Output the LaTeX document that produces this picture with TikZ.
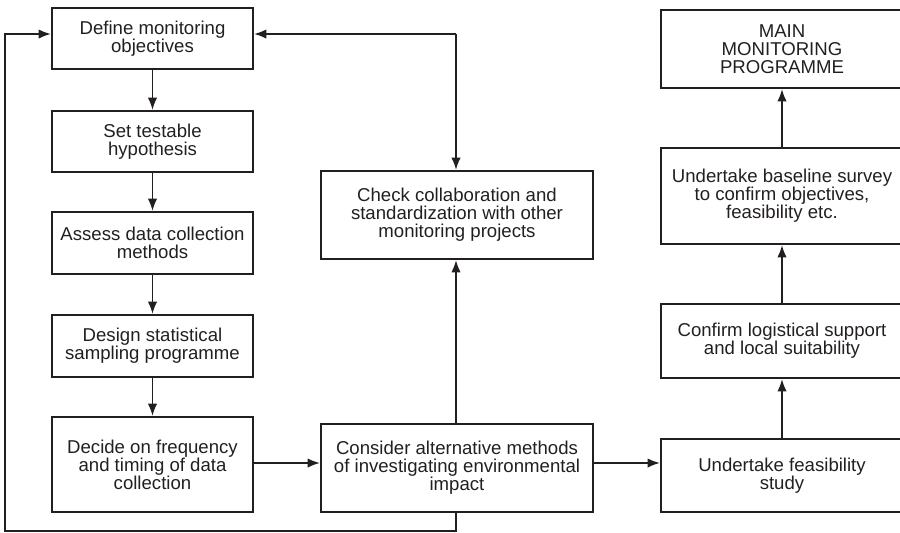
\documentclass[tikz,border=0pt]{standalone}
\usepackage{fontspec}
\setmainfont{Liberation Sans}
\usetikzlibrary{arrows.meta,calc}
\definecolor{ink}{RGB}{35,31,32}
\begin{document}
\begin{tikzpicture}[x=0.5pt, y=-0.5pt]
  \tikzstyle{stage}=[draw=ink, line width=1.3pt, align=center, inner sep=0pt,
                     font=\fontsize{9.3}{9}\selectfont, text=ink]
  \tikzstyle{link}=[draw=ink, line width=0.55pt, -{Latex[length=6pt,width=4.6pt]}]
  \useasboundingbox (0,0) rectangle (900,532);
  % left column
  \node[stage, minimum width=100.5pt, minimum height=30.5pt] (obj) at (152.5,38.5)
       {Define monitoring\\objectives};
  \node[stage, minimum width=100.5pt, minimum height=30.5pt] (hyp) at (152.5,141.5)
       {Set testable\\hypothesis};
  \node[stage, minimum width=100.5pt, minimum height=31pt] (assess) at (152.5,243)
       {Assess data collection\\methods};
  \node[stage, minimum width=100.5pt, minimum height=31pt] (design) at (152.5,346)
       {Design statistical\\sampling programme};
  \node[stage, minimum width=100.5pt, minimum height=47.5pt] (decide) at (152.5,464.5)
       {Decide on frequency\\and timing of data\\collection};
  % middle column
  \node[stage, minimum width=136pt, minimum height=44pt] (check) at (457,215)
       {Check collaboration and\\standardization with other\\monitoring projects};
  \node[stage, minimum width=136pt, minimum height=44pt] (consider) at (457,468)
       {Consider alternative methods\\of investigating environmental\\impact};
  % right column
  \node[stage, minimum width=121pt, minimum height=39pt] (main) at (782,49)
       {MAIN\\MONITORING\\PROGRAMME};
  \node[stage, minimum width=121pt, minimum height=48pt] (base) at (782,196)
       {Undertake baseline survey\\to confirm objectives,\\feasibility etc.};
  \node[stage, minimum width=121pt, minimum height=37pt] (confirm) at (782,341)
       {Confirm logistical support\\and local suitability};
  \node[stage, minimum width=121pt, minimum height=36.5pt] (feas) at (782,475.5)
       {Undertake feasibility\\study};
  \coordinate (top) at (456,34);
  \coordinate (low) at (456,531);
  \coordinate (far) at (5,531);
  \coordinate (mid) at (0,463);
  % connectors
  \draw[link] (obj) -- (hyp);
  \draw[link] (hyp) -- (assess);
  \draw[link] (assess) -- (design);
  \draw[link] (design) -- (decide);
  \draw[link] (decide.east |- mid) -- (consider.west |- mid);
  \draw[link] (consider.east |- mid) -- (feas.west |- mid);
  \draw[link] (feas) -- (confirm);
  \draw[link] (confirm) -- (base);
  \draw[link] (base) -- (main);
  \draw[link] (consider.north -| top) -- (check.south -| top);
  \draw[link] (top) -- (top -| obj.east);
  \draw[link] (top) -- (check.north -| top);
  \draw[link] (consider.south -| low) -- (low) -- (far) |- (obj.west |- top);
\end{tikzpicture}
\end{document}
